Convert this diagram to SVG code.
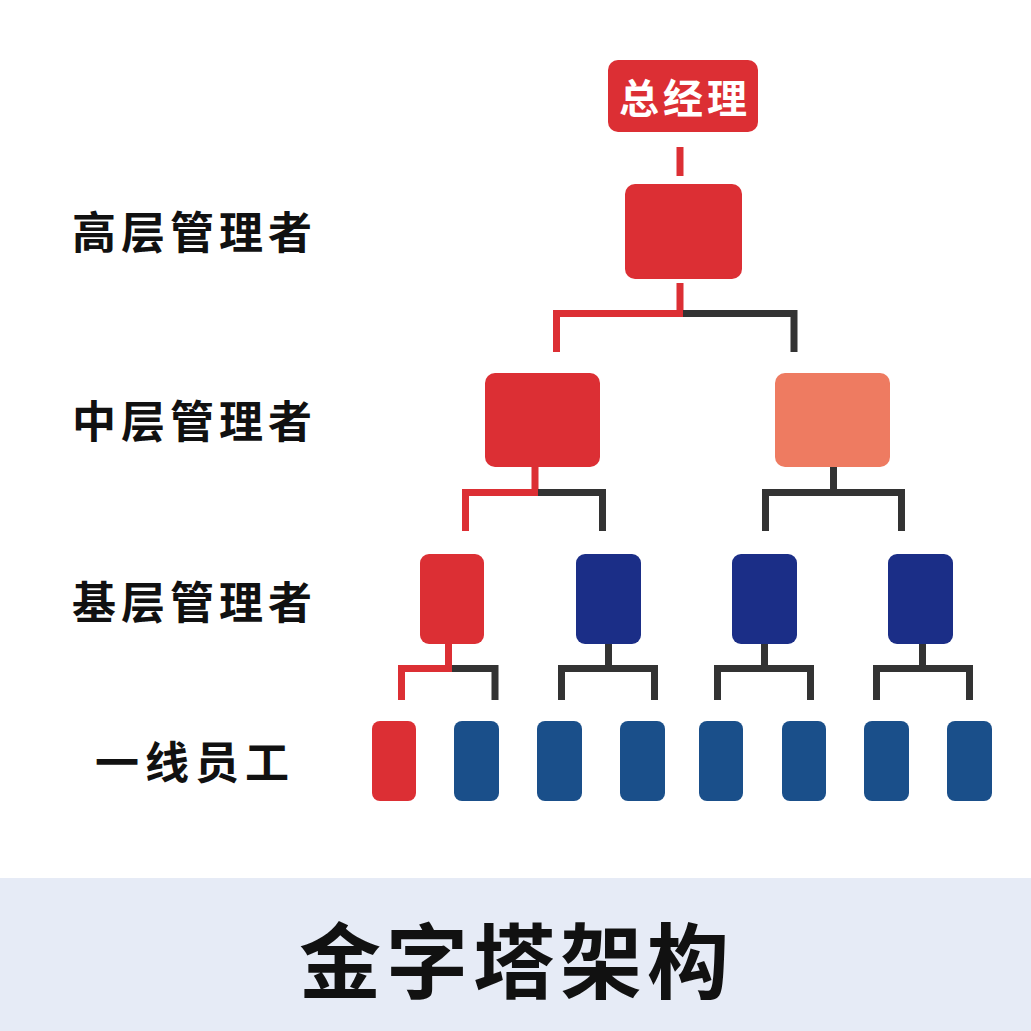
<svg xmlns="http://www.w3.org/2000/svg" width="1031" height="1031" viewBox="0 0 1031 1031">
<style>
.red{fill:#DC2F34}
.salmon{fill:#EE7B61}
.navy{fill:#1B2E87}
.blue{fill:#1A4F8A}
.cr{stroke:#DC2F34;stroke-width:7;fill:none;stroke-linecap:butt}
.cd{stroke:#333333;stroke-width:7;fill:none;stroke-linecap:butt}
.lbl{font-family:"Noto Sans CJK SC",sans-serif;font-weight:bold;font-size:44px;letter-spacing:5px;fill:#111111;dominant-baseline:central}
</style>
<rect x="0" y="0" width="1031" height="1031" fill="#FFFFFF"/>
<rect x="0" y="878" width="1031" height="153" fill="#E6EBF6"/>
<text x="299" y="956" font-family="Noto Sans CJK SC, sans-serif" font-weight="bold" font-size="82" letter-spacing="5" fill="#111111" dominant-baseline="central">金字塔架构</text>

<g id="labels">
<text class="lbl" x="72" y="230">高层管理者</text>
<text class="lbl" x="72" y="419">中层管理者</text>
<text class="lbl" x="72" y="600">基层管理者</text>
<text class="lbl" x="95" y="760" style="letter-spacing:6px">一线员工</text>
</g>

<g id="connectors">
<line class="cr" x1="680" y1="147" x2="680" y2="176"/>
<path class="cr" d="M680 283 V313.5 M683 313.5 H553.5 M556.5 310 V352"/>
<path class="cd" d="M683 313.5 H797.5 M794 310 V352"/>
<path class="cr" d="M535 466 V492.5 M538 492.5 H462 M465.5 489 V531"/>
<path class="cd" d="M538 492.5 H606 M602.5 489 V531"/>
<path class="cd" d="M833.5 466 V492.5 M762 492.5 H905 M765.5 489 V531 M901.5 489 V531"/>
<path class="cr" d="M448.5 644 V668.5 M452 668.5 H398 M401.5 665 V700"/>
<path class="cd" d="M452 668.5 H498.5 M495 665 V700"/>
<path class="cd" d="M608.5 644 V668.5 M558 668.5 H658 M561.5 665 V700 M654.5 665 V700"/>
<path class="cd" d="M764.5 644 V668.5 M714 668.5 H814 M717.5 665 V700 M810.5 665 V700"/>
<path class="cd" d="M922.5 644 V668.5 M873 668.5 H973 M876.5 665 V700 M969.5 665 V700"/>
</g>

<g id="gm">
<rect class="red" x="608" y="60" width="150" height="72" rx="10"/>
<text x="619" y="96" font-family="Noto Sans CJK SC, sans-serif" font-weight="bold" font-size="40" letter-spacing="4" fill="#FFFFFF" dominant-baseline="central">总经理</text>
</g>
<g id="top"><rect class="red" x="625" y="184" width="117" height="95" rx="10"/></g>
<g id="mid1"><rect class="red" x="485" y="373" width="115" height="94" rx="10"/></g>
<g id="mid2"><rect class="salmon" x="775" y="373" width="115" height="94" rx="10"/></g>
<g id="base1"><rect class="red" x="420" y="554" width="64" height="90" rx="9"/></g>
<g id="base2"><rect class="navy" x="576" y="554" width="65" height="90" rx="9"/></g>
<g id="base3"><rect class="navy" x="732" y="554" width="65" height="90" rx="9"/></g>
<g id="base4"><rect class="navy" x="888" y="554" width="65" height="90" rx="9"/></g>
<g id="staff1"><rect class="red" x="372" y="721" width="44" height="80" rx="8"/></g>
<g id="staff2"><rect class="blue" x="454" y="721" width="45" height="80" rx="8"/></g>
<g id="staff3"><rect class="blue" x="537" y="721" width="45" height="80" rx="8"/></g>
<g id="staff4"><rect class="blue" x="620" y="721" width="45" height="80" rx="8"/></g>
<g id="staff5"><rect class="blue" x="699" y="721" width="44" height="80" rx="8"/></g>
<g id="staff6"><rect class="blue" x="782" y="721" width="44" height="80" rx="8"/></g>
<g id="staff7"><rect class="blue" x="864" y="721" width="45" height="80" rx="8"/></g>
<g id="staff8"><rect class="blue" x="947" y="721" width="45" height="80" rx="8"/></g>
</svg>
